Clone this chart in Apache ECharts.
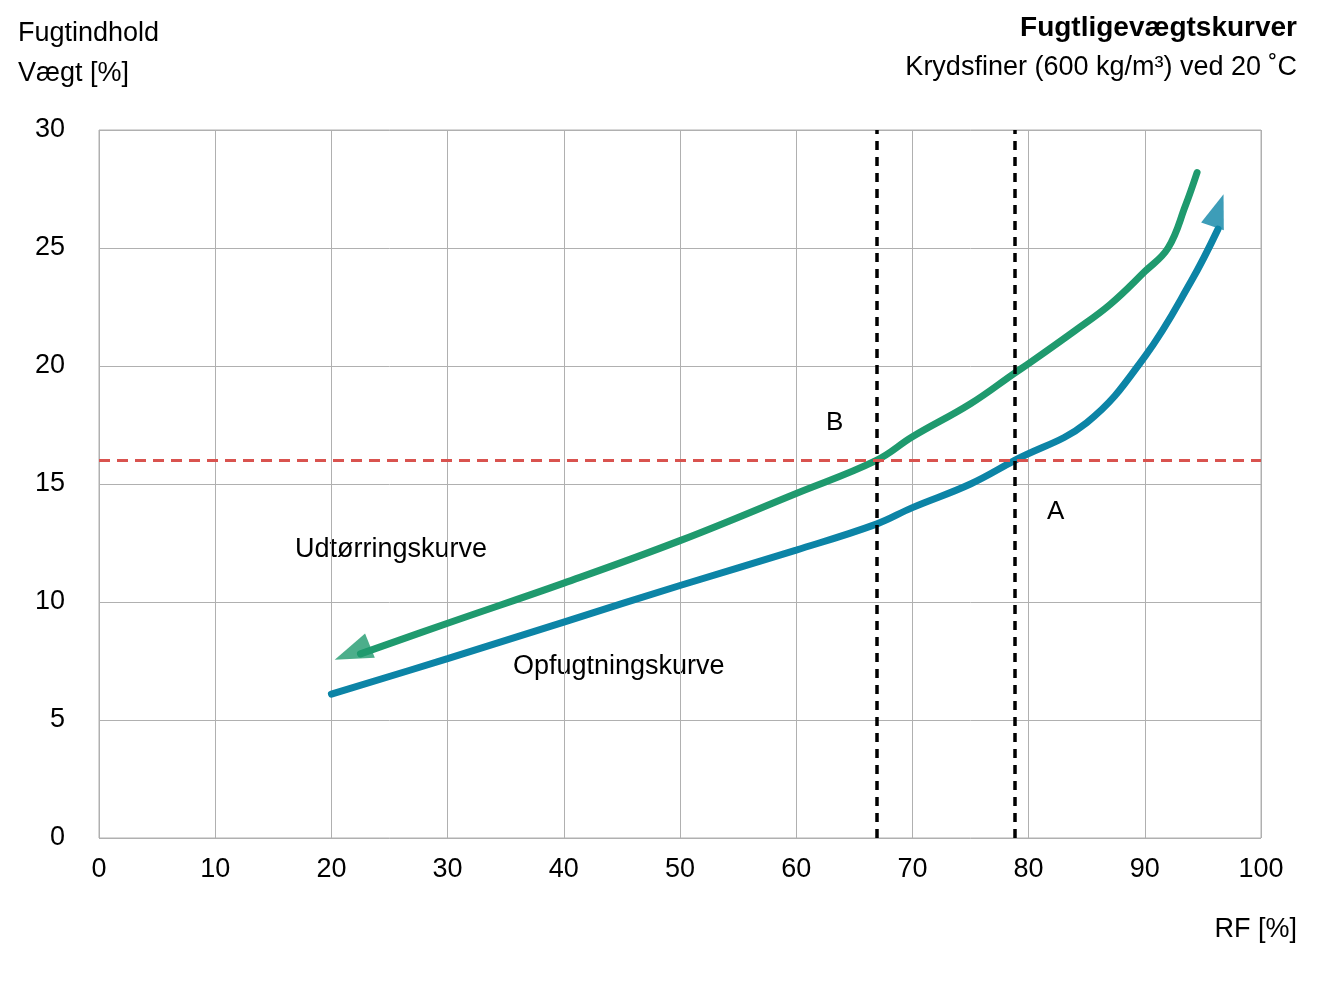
<!DOCTYPE html><html><head><meta charset="utf-8"><script src="https://cdn.jsdelivr.net/npm/echarts@6/dist/echarts.min.js"></script>
<style>html,body{margin:0;background:#fff}#c{width:1323px;height:993px}</style></head><body><div id="c"></div><script>
const dryX=[94.5,93.5,92,90,87,84,80,78.8,75,70,66.9,60,50,40,30,22.5];
const dryY=[28.2,26.8,25.0,24.0,22.6,21.5,20.1,19.7,18.4,17.0,16.0,14.6,12.6,10.8,9.1,7.8];
const wetX=[20,30,40,50,60,66.9,70,75,78.8,85,90,94,96.3];
const wetY=[6.1,7.6,9.15,10.7,12.2,13.3,14.0,15.0,16.0,17.6,20.4,23.6,25.8];
const vLines=[66.9,78.8];
const hLine=16;
const F='Arial, "Liberation Sans", sans-serif';
const ch=echarts.init(document.getElementById('c'));
const dryData=dryX.map((x,i)=>[x,dryY[i]]);
const wetData=wetX.map((x,i)=>[x,wetY[i]]);
ch.setOption({
 animation:false,
 grid:{left:99,right:62,top:130,bottom:155},
 xAxis:{type:'value',min:0,max:100,interval:10,axisLine:{show:false},axisTick:{show:false},
  splitLine:{lineStyle:{color:'#b0b0b0',width:1}},axisLabel:{fontSize:27,color:'#000',fontFamily:F,margin:18}},
 yAxis:{type:'value',min:0,max:30,interval:5,axisLine:{show:false},axisTick:{show:false},
  splitLine:{lineStyle:{color:'#b0b0b0',width:1}},axisLabel:{fontSize:27,color:'#000',fontFamily:F,margin:34}},
 graphic:[
  {type:'rect',shape:{x:99,y:130,width:1162,height:708},style:{fill:'none',stroke:'#b0b0b0',lineWidth:1},silent:true},
  {type:'text',left:18,top:14,style:{text:'Fugtindhold\nVægt [%]',font:'27px '+F,lineHeight:40,fill:'#000'}},
  {type:'text',right:26,top:14,style:{text:'Fugtligevægtskurver',font:'bold 28px '+F,fill:'#000'}},
  {type:'text',right:26,top:54,style:{text:'Krydsfiner (600 kg/m³) ved 20 ˚C',font:'27px '+F,fill:'#000'}},
  {type:'text',right:26,top:916,style:{text:'RF [%]',font:'27px '+F,fill:'#000'}},
  {type:'text',left:826,top:410,style:{text:'B',font:'26px '+F,fill:'#000'}},
  {type:'text',left:1047,top:499,style:{text:'A',font:'26px '+F,fill:'#000'}},
  {type:'text',left:295,top:536,style:{text:'Udtørringskurve',font:'27px '+F,fill:'#000'}},
  {type:'text',left:513,top:653,style:{text:'Opfugtningskurve',font:'27px '+F,fill:'#000'}}
 ],
 series:[
  {type:'line',data:wetData,smooth:0.4,showSymbol:false,lineStyle:{color:'#0c84a6',width:7,cap:'round'},
   markLine:{silent:true,symbol:'none',label:{show:false},
    data:[{xAxis:vLines[0],lineStyle:{color:'#000',type:[9,7],width:3.5}},{xAxis:vLines[1],lineStyle:{color:'#000',type:[9,7],width:3.5}},
          {yAxis:hLine,lineStyle:{color:'#d9534f',type:[11,7],width:3}}]}},
  {type:'line',data:dryData,smooth:0.4,showSymbol:false,lineStyle:{color:'#1f9a6e',width:7,cap:'round'}},
  {type:'scatter',data:[[96.3,26.6]],symbol:'triangle',symbolSize:[24,34],symbolRotate:-19,itemStyle:{color:'#0c84a6'}},
  {type:'scatter',data:[[21.8,7.85]],symbol:'triangle',symbolSize:[26,38],symbolRotate:112,itemStyle:{color:'#1f9a6e'}}
 ]
});
</script></body></html>
